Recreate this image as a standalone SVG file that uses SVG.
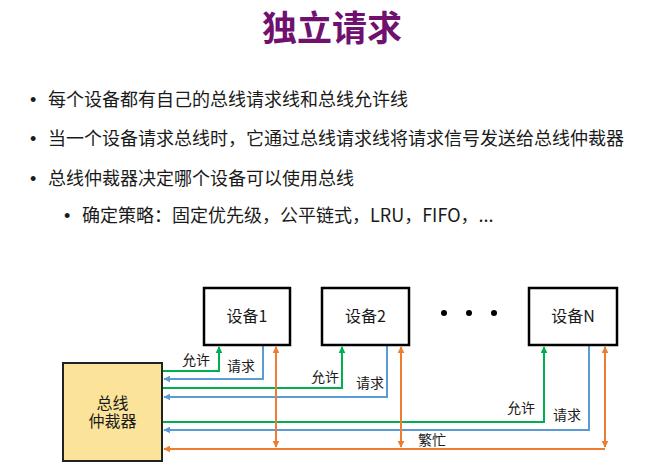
<svg xmlns="http://www.w3.org/2000/svg" width="658" height="470" viewBox="0 0 658 470">
<style>
.t{font-family:"Noto Sans CJK SC","Liberation Sans",sans-serif;fill:#1a1a1a}
.body{font-size:18px}
.bul{font-family:"Liberation Sans",sans-serif}
.lbl{font-size:14px}
.dev{font-size:16px}
.box{fill:#fff;stroke:#000;stroke-width:2.5}
.g{fill:none;stroke:#00B050;stroke-width:2}
.b{fill:none;stroke:#5B9BD5;stroke-width:2}
.o{fill:none;stroke:#ED7D31;stroke-width:2}
</style>
<defs>
<marker id="ag" viewBox="0 0 10 10" refX="9" refY="5" markerWidth="3.5" markerHeight="3.5" orient="auto-start-reverse" markerUnits="strokeWidth"><path d="M0,0L10,5L0,10z" fill="#00B050"/></marker>
<marker id="ab" viewBox="0 0 10 10" refX="9" refY="5" markerWidth="3.5" markerHeight="3.5" orient="auto-start-reverse" markerUnits="strokeWidth"><path d="M0,0L10,5L0,10z" fill="#5B9BD5"/></marker>
<marker id="ao" viewBox="0 0 10 10" refX="9" refY="5" markerWidth="3.5" markerHeight="3.5" orient="auto-start-reverse" markerUnits="strokeWidth"><path d="M0,0L10,5L0,10z" fill="#ED7D31"/></marker>
</defs>
<rect width="658" height="470" fill="#fff"/>
<text x="332" y="41" text-anchor="middle" font-family="Noto Sans CJK SC, sans-serif" font-weight="bold" font-size="35" fill="#70116F">独立请求</text>
<g class="t body">
<text y="106"><tspan class="bul" x="30">•</tspan><tspan x="48">每个设备都有自己的总线请求线和总线允许线</tspan></text>
<text y="145"><tspan class="bul" x="30">•</tspan><tspan x="48">当一个设备请求总线时，它通过总线请求线将请求信号发送给总线仲裁器</tspan></text>
<text y="185"><tspan class="bul" x="30">•</tspan><tspan x="48">总线仲裁器决定哪个设备可以使用总线</tspan></text>
<text y="222"><tspan class="bul" x="64">•</tspan><tspan x="82">确定策略：固定优先级，公平链式，LRU，FIFO，...</tspan></text>
</g>
<g id="connectors">
<path class="g" d="M162,371H219V347" marker-end="url(#ag)"/>
<path class="b" d="M263,345V379H164" marker-end="url(#ab)"/>
<path class="g" d="M162,388H342V347" marker-end="url(#ag)"/>
<path class="b" d="M387,345V397H164" marker-end="url(#ab)"/>
<path class="g" d="M162,422H544V347" marker-end="url(#ag)"/>
<path class="b" d="M589,345V430H164" marker-end="url(#ab)"/>
<path class="o" d="M605,449H164" marker-end="url(#ao)"/>
<path class="o" d="M276,347V447" marker-start="url(#ao)" marker-end="url(#ao)"/>
<path class="o" d="M401,347V447" marker-start="url(#ao)" marker-end="url(#ao)"/>
<path class="o" d="M605,347V447" marker-start="url(#ao)" marker-end="url(#ao)"/>
<g class="t lbl">
<text x="182" y="365">允许</text>
<text x="227" y="371">请求</text>
<text x="311" y="382">允许</text>
<text x="356" y="388">请求</text>
<text x="507" y="413">允许</text>
<text x="553" y="420">请求</text>
<text x="418" y="445">繁忙</text>
</g>
</g>
<g id="arbiter">
<rect x="63" y="363" width="99" height="98" fill="#FCE39A" stroke="#222" stroke-width="2"/>
<text class="t dev" text-anchor="middle"><tspan x="112.5" y="409">总线</tspan><tspan x="112.5" y="427">仲裁器</tspan></text>
</g>
<g id="dev1"><rect class="box" x="204" y="288" width="86" height="57"/><text class="t dev" x="247" y="322" text-anchor="middle">设备1</text></g>
<g id="dev2"><rect class="box" x="322" y="288" width="87" height="57"/><text class="t dev" x="365.5" y="322" text-anchor="middle">设备2</text></g>
<g id="devN"><rect class="box" x="529" y="288" width="88" height="57"/><text class="t dev" x="573" y="322" text-anchor="middle">设备N</text></g>
<g id="dots" fill="#000"><circle cx="444" cy="313" r="3"/><circle cx="469" cy="313" r="3"/><circle cx="494" cy="313" r="3"/></g>
</svg>
